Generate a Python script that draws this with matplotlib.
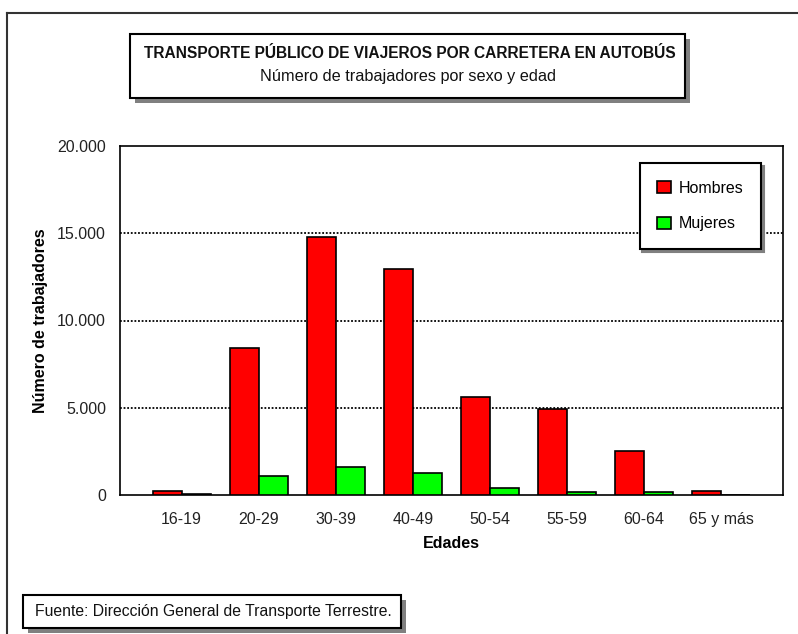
import matplotlib
matplotlib.use("Agg")
import matplotlib.pyplot as plt
from matplotlib.patches import Rectangle
from matplotlib.lines import Line2D
from matplotlib.ticker import FuncFormatter
import numpy as np

categories = ["16-19", "20-29", "30-39", "40-49", "50-54", "55-59", "60-64", "65 y más"]
hombres = [250, 8400, 14800, 12950, 5600, 4950, 2500, 250]
mujeres = [30, 1100, 1600, 1250, 420, 150, 150, 10]
series_names = ["Hombres", "Mujeres"]
yticks = [0, 5000, 10000, 15000, 20000]

title = "TRANSPORTE PÚBLICO DE VIAJEROS POR CARRETERA EN AUTOBÚS"
subtitle = "Número de trabajadores por sexo y edad"
source = "Fuente: Dirección General de Transporte Terrestre."

plt.rcParams['font.family'] = ['Liberation Sans', 'DejaVu Sans']

W, H = 798, 634
fig = plt.figure(figsize=(W / 100, H / 100), dpi=100)

def fx(x):
    return x / W

def fy(y):
    return 1 - y / H

# axes: px x 120-783, y 146-495
ax = fig.add_axes([fx(120), fy(495), (783 - 120) / W, (495 - 146) / H])

x = np.arange(len(categories))
bw = 0.375
ax.bar(x - bw / 2, hombres, width=bw, color="#FF0000", edgecolor="black", linewidth=1.2, zorder=3, label=series_names[0])
ax.bar(x + bw / 2, mujeres, width=bw, color="#00FF00", edgecolor="black", linewidth=1.2, zorder=3, label=series_names[1])

ax.set_xlim(-0.8, len(categories) - 1 + 0.8)
ax.set_ylim(0, 20000)
ax.set_yticks(yticks)
ax.yaxis.set_major_formatter(FuncFormatter(lambda v, p: f"{int(v):,}".replace(",", ".")))
ax.set_xticks(x)
ax.set_xticklabels(categories)
ax.tick_params(axis='both', length=0, labelsize=11.5, colors="#222222")
ax.tick_params(axis='x', pad=12)
ax.tick_params(axis='y', pad=10)
for v in yticks[1:-1]:
    ax.axhline(v, color="black", linestyle=(0, (1, 1)), linewidth=1.3, zorder=1)
for s in ax.spines.values():
    s.set_linewidth(1.2)
    s.set_color("black")

ax.set_xlabel("Edades", fontsize=11.5, fontweight="bold", labelpad=7)
ax.set_ylabel("Número de trabajadores", fontsize=11.5, fontweight="bold", labelpad=7)

# legend
handles = [Rectangle((0, 0), 1, 1, facecolor="#FF0000", edgecolor="black", linewidth=1.2),
           Rectangle((0, 0), 1, 1, facecolor="#00FF00", edgecolor="black", linewidth=1.2)]
leg = ax.legend(handles, series_names, loc="upper right",
                bbox_to_anchor=((761 - 120) / 663, 1 - (163 - 146) / 349),
                borderaxespad=0, fancybox=False, framealpha=1, edgecolor="black",
                fontsize=11.5, handlelength=0.85, handleheight=0.8, handletextpad=0.5,
                labelspacing=1.3, borderpad=1.1, shadow={'color': '#808080', 'alpha': 1})
leg.get_frame().set_linewidth(1.5)
leg.set_zorder(5)

# outer border
fig.add_artist(Line2D([fx(7), fx(798)], [fy(12.5), fy(12.5)], color="#333333", linewidth=1.5))
fig.add_artist(Line2D([fx(7), fx(7)], [fy(12.5), fy(634)], color="#333333", linewidth=1.5))

def shadow_box(x0, y0, x1, y1, off=5):
    fig.add_artist(Rectangle((fx(x0 + off), fy(y1 + off)), (x1 - x0) / W, (y1 - y0) / H,
                             facecolor="#808080", edgecolor="none"))
    fig.add_artist(Rectangle((fx(x0), fy(y1)), (x1 - x0) / W, (y1 - y0) / H,
                             facecolor="white", edgecolor="black", linewidth=1.5))

shadow_box(130, 34, 685, 98)
fig.text(fx(409.5), fy(53), title, ha="center", va="center", fontsize=11.2, fontweight="bold", color="#111111")
fig.text(fx(407.5), fy(76), subtitle, ha="center", va="center", fontsize=11.7, color="#111111")

shadow_box(23, 595, 401, 628)
fig.text(fx(35), fy(611.5), source, ha="left", va="center", fontsize=11.3, color="#111111")

fig.savefig("out.png", dpi=100)
